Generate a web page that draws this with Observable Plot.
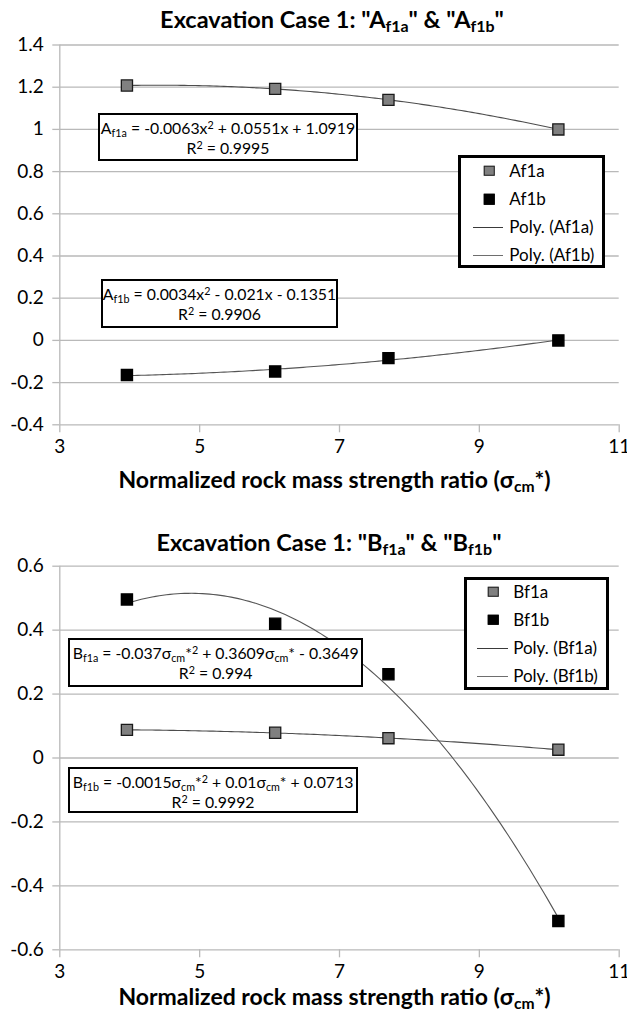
<!DOCTYPE html>
<html><head><meta charset="utf-8">
<script src="https://cdn.jsdelivr.net/npm/d3@7"></script>
<script src="https://cdn.jsdelivr.net/npm/@observablehq/plot@0.6"></script>
<style>
body{margin:0;background:#fff;font-family:Lato,"Open Sans",sans-serif;color:#000;}
#page{position:relative;width:627px;height:1015px;overflow:hidden;background:#fff;}
.title,.xlabel{position:absolute;font-weight:bold;white-space:nowrap;transform:translate(-50%,-50%);line-height:26px;}
.title{font-size:23.5px;}
.xlabel{font-size:23px;}
.eq{position:absolute;border:2.6px solid #000;background:#fff;font-size:15.8px;text-align:center;line-height:20px;box-sizing:border-box;padding-top:3px;white-space:nowrap;}
.legend{position:absolute;border:3px solid #000;background:#fff;box-sizing:border-box;font-size:17px;}
sub{font-size:0.68em;vertical-align:-0.25em;line-height:0;}
sup{font-size:0.68em;vertical-align:0.45em;line-height:0;}
.mk{position:absolute;width:10.5px;height:10.5px;box-sizing:border-box;transform:translate(-50%,-50%);}
.ln{position:absolute;height:0;border-top:1.3px solid #555;}
.lt{position:absolute;transform:translateY(-52%);white-space:nowrap;line-height:20px;}
</style></head>
<body><div id="page"></div>
<script>
// ---- data ----
const xVals = [3.96, 6.08, 7.70, 10.13];
const af1a = [1.208, 1.192, 1.140, 1.000];
const af1b = [-0.164, -0.147, -0.084, 0.000];
const bf1a = [0.088, 0.079, 0.062, 0.026];
const bf1b = [0.496, 0.420, 0.262, -0.510];
const xTicks = [3, 5, 7, 9, 11];
const yTicksA = [-0.4, -0.2, 0, 0.2, 0.4, 0.6, 0.8, 1, 1.2, 1.4];
const yTicksB = [-0.6, -0.4, -0.2, 0, 0.2, 0.4, 0.6];
const seriesA = ["Af1a", "Af1b"];
const seriesB = ["Bf1a", "Bf1b"];
const titleA = 'Excavation Case 1: "A<sub>f1a</sub>" &amp; "A<sub>f1b</sub>"';
const titleB = 'Excavation Case 1: "B<sub>f1a</sub>" &amp; "B<sub>f1b</sub>"';
const xLabel = 'Normalized rock mass strength ratio (σ<sub>cm</sub>*)';
const eqA1 = 'A<sub>f1a</sub> = -0.0063x<sup>2</sup> + 0.0551x + 1.0919<br>R<sup>2</sup> = 0.9995';
const eqA2 = 'A<sub>f1b</sub> = 0.0034x<sup>2</sup> - 0.021x - 0.1351<br>R<sup>2</sup> = 0.9906';
const eqB1 = 'B<sub>f1a</sub> = -0.037σ<sub>cm</sub>*<sup>2</sup> + 0.3609σ<sub>cm</sub>* - 0.3649<br>R<sup>2</sup> = 0.994';
const eqB2 = 'B<sub>f1b</sub> = -0.0015σ<sub>cm</sub>*<sup>2</sup> + 0.01σ<sub>cm</sub>* + 0.0713<br>R<sup>2</sup> = 0.9992';

// quadratic least-squares trendline computed from the points (like Excel's Poly. trendline)
function polyfit2(xs, ys) {
  const s = [0, 0, 0, 0, 0], t = [0, 0, 0];
  xs.forEach((x, i) => {
    for (let k = 0; k <= 4; k++) s[k] += Math.pow(x, k);
    for (let k = 0; k <= 2; k++) t[k] += ys[i] * Math.pow(x, k);
  });
  const M = [[s[0], s[1], s[2], t[0]], [s[1], s[2], s[3], t[1]], [s[2], s[3], s[4], t[2]]];
  for (let i = 0; i < 3; i++) {
    let p = i; for (let r = i + 1; r < 3; r++) if (Math.abs(M[r][i]) > Math.abs(M[p][i])) p = r;
    [M[i], M[p]] = [M[p], M[i]];
    for (let r = 0; r < 3; r++) if (r !== i) {
      const f = M[r][i] / M[i][i];
      for (let c = i; c < 4; c++) M[r][c] -= f * M[i][c];
    }
  }
  return [M[0][3] / M[0][0], M[1][3] / M[1][1], M[2][3] / M[2][2]];
}
function trend(xs, ys) {
  const [c0, c1, c2] = polyfit2(xs, ys);
  const x0 = d3.min(xs), x1 = d3.max(xs);
  return d3.range(121).map(i => { const x = x0 + (x1 - x0) * i / 120; return {x, y: c0 + c1 * x + c2 * x * x}; });
}

const page = document.getElementById("page");
const grid = "#b9b9b9";
const fmt = d => String(+d.toFixed(1));

function makeChart(top, height, mt, mb, yDomain, yTicks, ys1, ys2, names) {
  const pts = xVals.map((x, i) => ({x, y: ys1[i], s: names[0]})).concat(xVals.map((x, i) => ({x, y: ys2[i], s: names[1]})));
  const t1 = trend(xVals, ys1), t2 = trend(xVals, ys2);
  const chart = Plot.plot({
    width: 627, height, marginTop: mt, marginBottom: mb, marginLeft: 59.3, marginRight: 8.3,
    x: {domain: [3, 11]}, y: {domain: yDomain},
    style: {fontFamily: 'Lato, "Open Sans", sans-serif', fontSize: "19px", color: "#000", background: "transparent", overflow: "visible"},
    marks: [
      Plot.ruleY(yTicks, {x1: 3, x2: 11, stroke: grid, strokeWidth: 1.3}),
      Plot.ruleX([3], {y1: yDomain[0], y2: yDomain[1], stroke: grid, strokeWidth: 1.3}),
      Plot.axisY({ticks: yTicks, tickSize: 7, tickPadding: 9, tickFormat: fmt, stroke: grid, strokeWidth: 1.3, label: null, fill: "#000"}),
      Plot.axisX({ticks: xTicks, tickSize: 8, tickPadding: 7, tickFormat: d => String(d), stroke: grid, strokeWidth: 1.3, label: null, fill: "#000"}),
      Plot.line(t1, {x: "x", y: "y", stroke: "#4d4d4d", strokeWidth: 1.1}),
      Plot.line(t2, {x: "x", y: "y", stroke: "#555", strokeWidth: 1.1}),
      Plot.dot(pts, {x: "x", y: "y", symbol: "square", r: 6.3, fill: d => d.s === names[0] ? "#808080" : "#000", stroke: d => d.s === names[0] ? "#1a1a1a" : "#000", strokeWidth: 1.3})
    ]
  });
  chart.style.position = "absolute";
  chart.style.left = "0px";
  chart.style.top = top + "px";
  page.appendChild(chart);
}

function addText(cls, html, x, y) {
  const d = document.createElement("div"); d.className = cls; d.innerHTML = html;
  d.style.left = x + "px"; d.style.top = y + "px"; page.appendChild(d);
}
function addBox(html, l, t, w, h) {
  const d = document.createElement("div"); d.className = "eq"; d.innerHTML = html;
  Object.assign(d.style, {left: l + "px", top: t + "px", width: w + "px", height: h + "px"});
  page.appendChild(d);
}
function addLegend(names, l, t, w, h, rowY, mkX, txX, ln) {
  const d = document.createElement("div"); d.className = "legend";
  Object.assign(d.style, {left: l + "px", top: t + "px", width: w + "px", height: h + "px"});
  const items = [
    {type: "mk", fill: "#808080", stroke: "#222", label: names[0]},
    {type: "mk", fill: "#000", stroke: "#000", label: names[1]},
    {type: "ln", color: "#3a3a3a", label: `Poly. (${names[0]})`},
    {type: "ln", color: "#6e6e6e", label: `Poly. (${names[1]})`}
  ];
  items.forEach((it, i) => {
    const y = rowY[i];
    const m = document.createElement("div"); m.className = it.type;
    if (it.type === "mk") {
      Object.assign(m.style, {left: mkX + "px", top: y + "px", background: it.fill, border: `1.2px solid ${it.stroke}`});
    } else {
      Object.assign(m.style, {left: ln[0] + "px", width: (ln[1] - ln[0]) + "px", top: y + "px", borderTopColor: it.color});
    }
    d.appendChild(m);
    const tx = document.createElement("div"); tx.className = "lt"; tx.textContent = it.label;
    Object.assign(tx.style, {left: txX + "px", top: y + "px"});
    d.appendChild(tx);
  });
  page.appendChild(d);
}

// Chart 1
makeChart(30, 430, 14.5, 35.7, [-0.4, 1.4], yTicksA, af1a, af1b, seriesA);
addText("title", titleA, 332, 19);
addText("xlabel", xLabel, 334.5, 479);
addBox(eqA1, 98.3, 112.7, 259.4, 48.3);
addBox(eqA2, 100.7, 279, 237.6, 48.7);
addLegend(seriesA, 458.3, 155, 146.7, 113.3, [12.7, 41, 68.7, 97], 28, 48, [11.4, 41.7]);

// Chart 2
makeChart(550, 435, 15.7, 35.7, [-0.6, 0.6], yTicksB, bf1a, bf1b, seriesB);
addText("title", titleB, 329, 542);
addText("xlabel", xLabel, 334.5, 996);
addBox(eqB1, 68.1, 637.7, 295.1, 49);
addBox(eqB2, 68.1, 766.7, 289.9, 46.6);
addLegend(seriesB, 463.5, 576.7, 145.9, 113.3, [12.3, 40.3, 68.6, 96.3], 26.6, 46.7, [10.5, 41]);
</script>
</body></html>
